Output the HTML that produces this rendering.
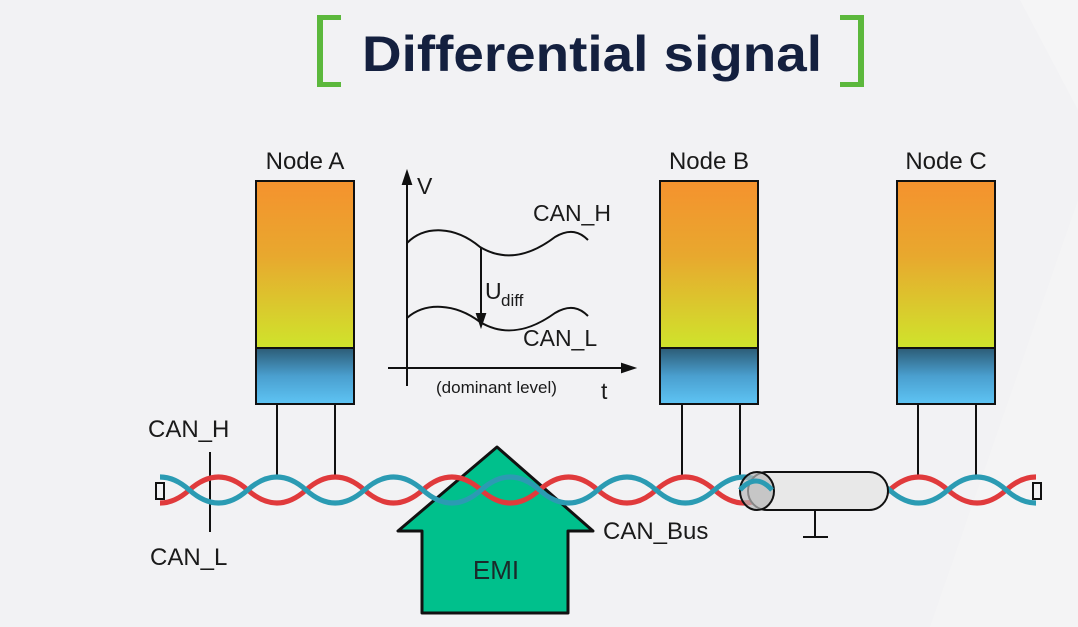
<!DOCTYPE html>
<html><head><meta charset="utf-8"><style>
html,body{margin:0;padding:0;background:#f2f2f4;}
svg{display:block;font-family:"Liberation Sans",sans-serif;}
</style></head><body>
<svg width="1078" height="627" viewBox="0 0 1078 627" xmlns="http://www.w3.org/2000/svg">
<defs>
<linearGradient id="og" x1="0" y1="0" x2="0" y2="1"><stop offset="0" stop-color="#f5922e"/><stop offset="0.45" stop-color="#e8a82e"/><stop offset="1" stop-color="#cfe42c"/></linearGradient>
<linearGradient id="bg" x1="0" y1="0" x2="0" y2="1"><stop offset="0" stop-color="#2c5c76"/><stop offset="0.5" stop-color="#4a9fcf"/><stop offset="1" stop-color="#5ec4f4"/></linearGradient>
<clipPath id="wc"><rect x="160" y="440" width="876" height="100"/></clipPath>
</defs>
<rect width="1078" height="627" fill="#f2f2f4"/>
<polygon points="1020,0 1078,0 1078,110" fill="#f5f5f6"/>
<polygon points="1078,200 930,627 1078,627" fill="#f4f4f5"/>
<!-- title -->
<g fill="#5cb83c">
<rect x="317" y="15" width="6" height="72"/><rect x="317" y="15" width="24" height="5"/><rect x="317" y="82" width="24" height="5"/>
<rect x="858" y="15" width="6" height="72"/><rect x="840" y="15" width="24" height="5"/><rect x="840" y="82" width="24" height="5"/>
</g>
<text x="592" y="71" text-anchor="middle" font-size="50" font-weight="bold" fill="#14203f" textLength="460" lengthAdjust="spacingAndGlyphs">Differential signal</text>
<!-- nodes -->
<g font-size="24" fill="#1a1a1a" text-anchor="middle">
<text x="305" y="169">Node A</text><text x="709" y="169">Node B</text><text x="946" y="169">Node C</text>
</g>
<g stroke="#111" stroke-width="2">
<rect x="256" y="181" width="98" height="167" fill="url(#og)"/><rect x="256" y="348" width="98" height="56" fill="url(#bg)"/>
<rect x="660" y="181" width="98" height="167" fill="url(#og)"/><rect x="660" y="348" width="98" height="56" fill="url(#bg)"/>
<rect x="897" y="181" width="98" height="167" fill="url(#og)"/><rect x="897" y="348" width="98" height="56" fill="url(#bg)"/>
<line x1="277" y1="404" x2="277" y2="478"/><line x1="335" y1="404" x2="335" y2="478"/>
<line x1="682" y1="404" x2="682" y2="478"/><line x1="740" y1="404" x2="740" y2="478"/>
<line x1="918" y1="404" x2="918" y2="478"/><line x1="976" y1="404" x2="976" y2="478"/>
<line x1="210" y1="452" x2="210" y2="532"/>
</g>
<!-- chart -->
<g stroke="#111" stroke-width="2" fill="none">
<line x1="407" y1="178" x2="407" y2="386"/><polygon points="407,172 403,184 411,184" fill="#111"/>
<line x1="388" y1="368" x2="628" y2="368"/><polygon points="634,368 622,364 622,372" fill="#111"/>
<path d="M407 243 C425 225 455 226 480 247 C505 262 530 256 555 237 C570 228 580 232 588 240"/>
<path d="M407 318 C425 302 455 303 480 322 C505 337 530 331 555 313 C570 304 580 308 588 316"/>
<line x1="481" y1="248" x2="481" y2="318"/><polygon points="481,326 477,314 485,314" fill="#111"/>
</g>
<g fill="#1a1a1a">
<text x="417" y="194" font-size="23">V</text>
<text x="533" y="221" font-size="23">CAN_H</text>
<text x="485" y="299" font-size="23">U</text><text x="501" y="306" font-size="17">diff</text>
<text x="523" y="346" font-size="23">CAN_L</text>
<text x="436" y="393" font-size="17">(dominant level)</text>
<text x="601" y="399" font-size="23">t</text>
<text x="148" y="437" font-size="24">CAN_H</text>
<text x="150" y="565" font-size="24">CAN_L</text>
<text x="603" y="539" font-size="24">CAN_Bus</text>
</g>
<!-- EMI -->
<polygon points="497,447 398,531 422,531 422,613 568,613 568,531 593,531" fill="#00c08c" stroke="#111" stroke-width="3" stroke-linejoin="round"/>
<text x="496" y="579" font-size="26" text-anchor="middle" fill="#1a2a2a">EMI</text>
<!-- wires -->
<g clip-path="url(#wc)" fill="none" stroke-width="5">
<path d="M131 490 Q160.2 516 189.35 490 T247.7 490 T306.05 490 T364.4 490 T422.75 490 T481.1 490 T539.45 490 T597.8 490 T656.15 490 T714.5 490 T772.85 490 T831.2 490 T889.55 490 T947.9 490 T1006.25 490 T1064.6 490" stroke="#e03a3c"/>
<path d="M131 490 Q160.2 464 189.35 490 T247.7 490 T306.05 490 T364.4 490 T422.75 490 T481.1 490 T539.45 490 T597.8 490 T656.15 490 T714.5 490 T772.85 490 T831.2 490 T889.55 490 T947.9 490 T1006.25 490 T1064.6 490" stroke="#2b9bb3"/>
</g>
<!-- cylinder -->
<g stroke="#111" stroke-width="2">
<rect x="748" y="472" width="140" height="38" rx="19" fill="#e8e8e8"/>
<ellipse cx="757" cy="491" rx="17" ry="19" fill="#b8b8b8" fill-opacity="0.7"/>
<line x1="815" y1="510" x2="815" y2="537"/><line x1="803" y1="537" x2="828" y2="537"/>
</g>
<path d="M740 490 Q756 472 772 490" fill="none" stroke="#2b9bb3" stroke-width="5"/>
<!-- terminators -->
<g fill="#f2f2f4" stroke="#111" stroke-width="2">
<rect x="156" y="483" width="8" height="16"/><rect x="1033" y="483" width="8" height="16"/>
</g>
</svg>
</body></html>
